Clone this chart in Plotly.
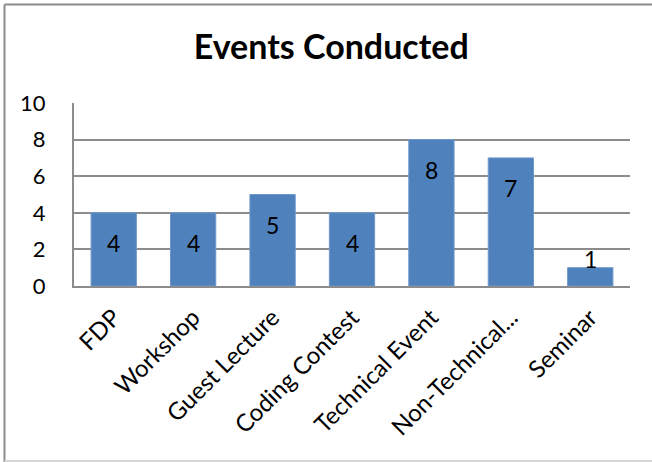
import plotly.graph_objects as go

categories = ["FDP", "Workshop", "Guest Lecture", "Coding Contest",
              "Technical Event", "Non-Technical...", "Seminar"]
values = [4, 4, 5, 4, 8, 7, 1]
y_ticks = [0, 2, 4, 6, 8, 10]

W, H = 652, 462
ML, MR, MT, MB = 74, 22, 103, 176
plot_h = H - MT - MB
px_per_unit = plot_h / 10.0

FONT = "Lato, Calibri, Carlito, sans-serif"
BAR = "#4F81BD"
GRID = "#8C8C8C"

fig = go.Figure()
fig.add_trace(go.Bar(
    x=categories, y=values,
    marker=dict(color=BAR, line=dict(color="#6F97CB", width=1)),
    width=0.57, hoverinfo="skip",
))

for c, v in zip(categories, values):
    inside = v * px_per_unit > 40
    fig.add_annotation(
        x=c, y=v, xref="x", yref="y", text=str(v), showarrow=False,
        yanchor="middle", yshift=-30 if inside else 9,
        font=dict(family=FONT, size=23, color="#000000"),
    )

# outer chart border (top/left dark, bottom light)
def px_x(p):
    return (p - ML) / (W - ML - MR)

def px_y(p):
    return (H - MB - p) / plot_h

fig.add_shape(type="line", xref="paper", yref="paper",
              x0=px_x(4.5), x1=px_x(W), y0=px_y(4.5), y1=px_y(4.5),
              line=dict(color="#8C8C8C", width=2))
fig.add_shape(type="line", xref="paper", yref="paper",
              x0=px_x(4.5), x1=px_x(4.5), y0=px_y(4.5), y1=px_y(H),
              line=dict(color="#8C8C8C", width=2))
fig.add_shape(type="line", xref="paper", yref="paper",
              x0=px_x(4.5), x1=px_x(W), y0=px_y(461), y1=px_y(461),
              line=dict(color="#D4D4D4", width=2))

fig.update_layout(
    width=W, height=H,
    margin=dict(l=ML, r=MR, t=MT, b=MB, pad=0),
    paper_bgcolor="white", plot_bgcolor="white",
    showlegend=False,
    title=dict(text="<b>Events Conducted</b>", x=0.508, xref="container",
               xanchor="center", y=1 - 47 / H, yref="container", yanchor="middle",
               font=dict(family=FONT, size=34, color="#000000")),
    xaxis=dict(
        tickangle=-45, tickfont=dict(family=FONT, size=24, color="#000000"),
        showline=True, linecolor=GRID, linewidth=2, showgrid=False,
        ticks="", ticklabelstandoff=6, fixedrange=True,
    ),
    yaxis=dict(
        range=[0, 10], tickvals=y_ticks, ticktext=[str(t) for t in y_ticks],
        tickfont=dict(family=FONT, size=22, color="#000000"),
        showgrid=True, gridcolor=GRID, gridwidth=2,
        showline=True, linecolor=GRID, linewidth=2,
        zeroline=False, ticks="", ticklabelstandoff=22, fixedrange=True,
    ),
    bargap=0.43,
)

fig.write_html(
    "out.html",
    config={"displayModeBar": False, "staticPlot": True},
    post_script="document.body.style.margin='0';document.body.style.padding='0';"
                "document.body.style.overflow='hidden';",
)
